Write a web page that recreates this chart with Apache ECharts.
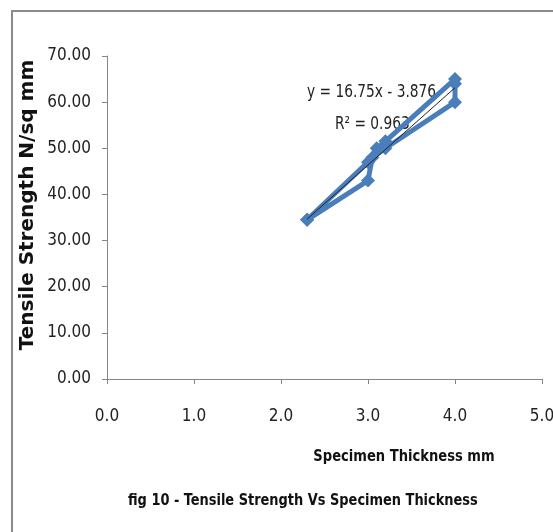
<!DOCTYPE html>
<html><head><meta charset="utf-8">
<script src="https://cdn.jsdelivr.net/npm/echarts@6/dist/echarts.min.js"></script>
<style>html,body{margin:0;padding:0;background:#fff}#c{width:553px;height:532px}</style>
</head><body><div id="c"></div>
<script>
const thickness = [2.3, 3.0, 3.1, 3.2, 4.0, 4.0, 4.0, 3.2, 3.05, 3.0, 2.3];
const strength  = [34.5, 47.0, 50.0, 51.5, 65.0, 64.0, 60.0, 50.0, 48.0, 43.0, 34.5];
const yTicks = [0, 10, 20, 30, 40, 50, 60, 70];
const xTicks = [0, 1, 2, 3, 4, 5];
const trendSlope = 16.75, trendIntercept = -3.876;
const trendRange = [2.3, 4.0];
const eqText = 'y = 16.75x - 3.876';
const r2Text = 'R² = 0.963';
const xTitle = 'Specimen Thickness mm';
const yTitle = 'Tensile Strength N/sq mm';
const figTitle = 'fig 10 - Tensile Strength Vs Specimen Thickness';

const font = '"DejaVu Sans Condensed","Open Sans",sans-serif';
const chart = echarts.init(document.getElementById('c'));
const pts = thickness.map((x, i) => [x, strength[i]]);
const trend = trendRange.map(x => [x, trendSlope * x + trendIntercept]);
chart.setOption({
  animation: false,
  grid: {left: 107, right: 11, top: 56, bottom: 153, outerBoundsMode: 'none', containLabel: false},
  xAxis: {
    type: 'value', min: 0, max: 5, interval: 1,
    axisLine: {show: true, lineStyle: {color: '#868686', width: 1}},
    axisTick: {show: true, length: 5, lineStyle: {color: '#868686'}},
    splitLine: {show: false},
    axisLabel: {color: '#222', fontSize: 17, fontFamily: font, margin: 29, formatter: v => v.toFixed(1)}
  },
  yAxis: {
    type: 'value', min: 0, max: 70, interval: 10,
    axisLine: {show: true, lineStyle: {color: '#868686', width: 1}},
    axisTick: {show: true, length: 5, lineStyle: {color: '#868686'}},
    splitLine: {show: false},
    axisLabel: {color: '#222', fontSize: 17, fontFamily: font, margin: 16, formatter: v => v.toFixed(2)}
  },
  series: [
    {type: 'line', data: pts, symbol: 'diamond', symbolSize: 14, z: 2,
     lineStyle: {color: '#4a7ebb', width: 5}, itemStyle: {color: '#4a7ebb'}},
    {type: 'line', data: trend, symbol: 'none', z: 3,
     lineStyle: {color: '#222', width: 1}}
  ],
  graphic: [
    {type: 'rect', shape: {x: 12, y: 11, width: 560, height: 540}, style: {fill: 'none', stroke: '#8a8a8a', lineWidth: 2}, silent: true},
    {type: 'text', x: 307, y: 84, scaleX: 0.9, style: {text: eqText, fontSize: 17, fontFamily: font, fill: '#222'}},
    {type: 'text', x: 335, y: 116, scaleX: 0.9, style: {text: r2Text, fontSize: 17, fontFamily: font, fill: '#222'}},
    {type: 'text', x: 404, y: 457, scaleX: 0.91, style: {text: xTitle, fontSize: 16, fontWeight: 'bold', fontFamily: font, fill: '#111', align: 'center', verticalAlign: 'middle'}},
    {type: 'text', x: 28, y: 205, rotation: Math.PI / 2, style: {text: yTitle, fontSize: 20, fontWeight: 'bold', fontFamily: '"DejaVu Sans", sans-serif', fill: '#111', align: 'center', verticalAlign: 'middle'}},
    {type: 'text', x: 128, y: 493, scaleX: 0.9, style: {text: figTitle, fontSize: 16, fontWeight: 'bold', fontFamily: font, fill: '#111'}}
  ]
});
</script></body></html>
